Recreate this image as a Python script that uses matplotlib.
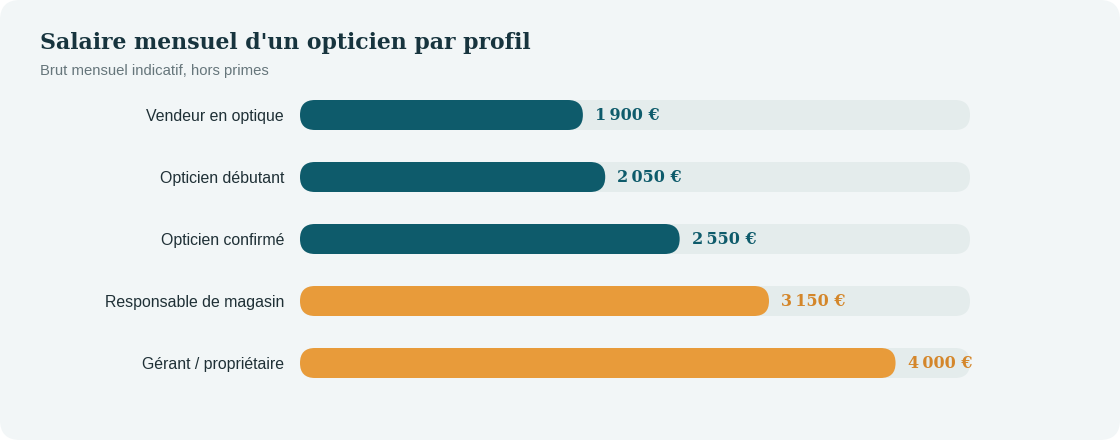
import matplotlib.pyplot as plt
from matplotlib.patches import FancyBboxPatch

# données
profils = ["Vendeur en optique", "Opticien débutant", "Opticien confirmé",
           "Responsable de magasin", "Gérant / propriétaire"]
salaires = [1900, 2050, 2550, 3150, 4000]
groupes = ["base", "base", "base", "cadre", "cadre"]
etiquettes = ["1\u2009900 €", "2\u2009050 €", "2\u2009550 €", "3\u2009150 €", "4\u2009000 €"]
x_max = 4500

couleurs = {"base": "#0E5B6B", "cadre": "#E89B3A"}
couleurs_txt = {"base": "#0E5B6B", "cadre": "#D4862A"}

W, H = 1120, 440
fig = plt.figure(figsize=(W / 100, H / 100), dpi=100)
fig.patch.set_facecolor("white")

# carte de fond
carte = FancyBboxPatch((0, 0), 1, 1, boxstyle="round,pad=0,rounding_size=%f" % (20 / W),
                       mutation_aspect=W / H, transform=fig.transFigure,
                       facecolor="#F2F6F7", edgecolor="none", zorder=-5)
fig.patches.append(carte)

# titre
fig.text(40 / W, 1 - 43 / H, "Salaire mensuel d'un opticien par profil",
         fontfamily="DejaVu Serif", fontweight="bold", fontsize=15.8,
         color="#17343E", va="center", ha="left")
fig.text(40 / W, 1 - 71 / H, "Brut mensuel indicatif, hors primes",
         fontfamily="Liberation Sans", fontsize=10.7, color="#66767B",
         va="center", ha="left")

# axes
left, right = 300, 970
top, bottom = 84, 394
ax = fig.add_axes([left / W, 1 - bottom / H, (right - left) / W, (bottom - top) / H])
ax.set_xlim(0, x_max)
ax.set_ylim(len(profils) - 0.5, -0.5)
ax.axis("off")

px_x = x_max / (right - left)
px_y = len(profils) / (bottom - top)
h = 30 * px_y
r = 15 * px_x
aspect = px_y / px_x

for i, (p, v, g, lab) in enumerate(zip(profils, salaires, groupes, etiquettes)):
    piste = FancyBboxPatch((0, i - h / 2), x_max, h,
                           boxstyle="round,pad=0,rounding_size=%f" % r,
                           mutation_aspect=aspect, facecolor="#E4ECEC",
                           edgecolor="none", zorder=1)
    ax.add_patch(piste)
    barre = FancyBboxPatch((0, i - h / 2), v, h,
                           boxstyle="round,pad=0,rounding_size=%f" % r,
                           mutation_aspect=aspect, facecolor=couleurs[g],
                           edgecolor="none", zorder=2)
    ax.add_patch(barre)
    ax.annotate(lab, (v, i), xytext=(12, -5), textcoords="offset pixels",
                ha="left", va="baseline", fontsize=11.5, fontweight="bold",
                family=["DejaVu Serif"],
                color=couleurs_txt[g], zorder=3, annotation_clip=False)
    ax.annotate(p, (0, i), xytext=(-16, -6), textcoords="offset pixels",
                ha="right", va="baseline", fontsize=11.4,
                fontfamily="Liberation Sans", color="#1F3036",
                annotation_clip=False)

fig.savefig("out.png", dpi=100)
